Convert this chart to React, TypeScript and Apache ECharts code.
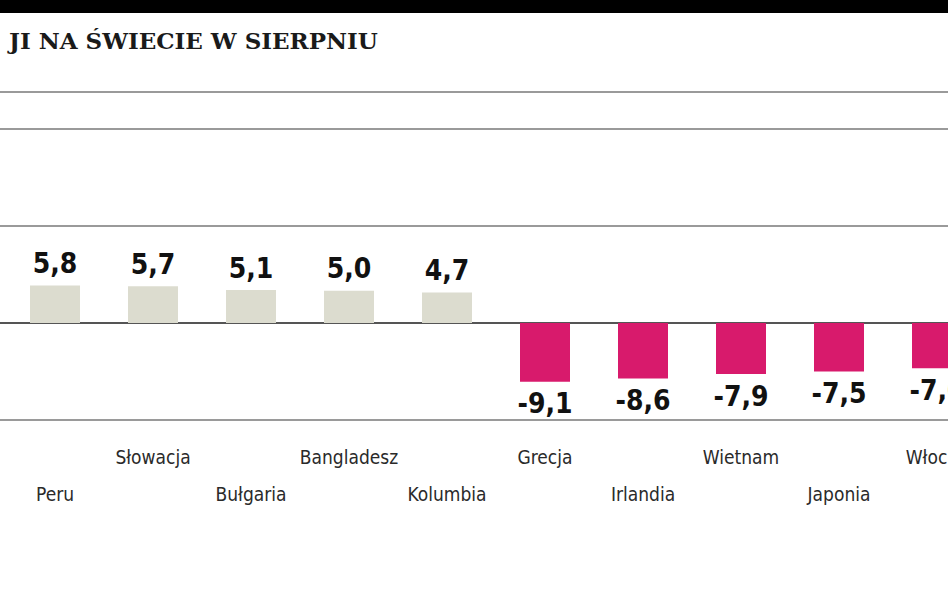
import React, { useEffect, useRef } from "react";
import * as echarts from "echarts";

const categories = ["Peru", "Słowacja", "Bułgaria", "Bangladesz", "Kolumbia", "Grecja", "Irlandia", "Wietnam", "Japonia", "Włochy"];
const values = [5.8, 5.7, 5.1, 5.0, 4.7, -9.1, -8.6, -7.9, -7.5, -7.0];
const titleText = "JI NA ŚWIECIE W SIERPNIU";

const POS_COLOR = "#dcdccf";
const NEG_COLOR = "#d81a6c";
const GRID_COLOR = "#9a9a9a";

export default function App() {
  const ref = useRef<HTMLDivElement>(null);
  useEffect(() => {
    if (!ref.current) return;
    const chart = echarts.init(ref.current, null, { renderer: "svg" });
    const fmt = (v: number) => v.toFixed(1).replace(".", ",");
    const stub = (y: number, color: string) => ({
      type: "line",
      shape: { x1: 0, y1: y, x2: 7, y2: y },
      style: { stroke: color, lineWidth: 2 },
    });
    chart.setOption({
      animation: false,
      backgroundColor: "#ffffff",
      grid: { left: 6, right: 0, top: 129, bottom: 173, containLabel: false },
      graphic: [
        { type: "rect", left: 0, top: 0, shape: { x: 0, y: 0, width: 986, height: 13 }, style: { fill: "#000" } },
        { type: "line", shape: { x1: 0, y1: 92, x2: 986, y2: 92 }, style: { stroke: GRID_COLOR, lineWidth: 2 } },
        stub(129, GRID_COLOR),
        stub(226, GRID_COLOR),
        stub(420, GRID_COLOR),
        stub(323, "#555"),
        {
          type: "text",
          x: 9,
          y: 29,
          style: {
            text: titleText,
            font: "bold 23px 'DejaVu Serif'",
            fill: "#1a1a1a",
          },
        },
      ],
      xAxis: [
        {
          type: "category",
          data: categories,
          position: "bottom",
          axisLine: { show: false, onZero: false },
          axisTick: { show: false },
          axisLabel: {
            interval: 0,
            margin: 18,
            fontFamily: "'DejaVu Sans Condensed'",
            fontSize: 19,
            color: "#2a2a2a",
            lineHeight: 37,
            verticalAlign: "top",
            formatter: (v: string, i: number) => (i % 2 === 0 ? "\n" + v : v + "\n"),
          },
        },
        {
          type: "category",
          data: categories,
          position: "top",
          axisLine: { show: true, onZero: true, lineStyle: { color: "#555", width: 2 } },
          axisTick: { show: false },
          axisLabel: { show: false },
        },
      ],
      yAxis: {
        type: "value",
        min: -15,
        max: 30,
        interval: 15,
        axisLabel: { show: false },
        axisLine: { show: false },
        axisTick: { show: false },
        splitLine: { show: true, lineStyle: { color: GRID_COLOR, width: 2 } },
      },
      series: [
        {
          type: "bar",
          xAxisIndex: 0,
          barWidth: 50,
          data: values.map((v) => ({
            value: v,
            itemStyle: { color: v >= 0 ? POS_COLOR : NEG_COLOR },
            label: { position: v >= 0 ? "top" : "bottom" },
          })),
          label: {
            show: true,
            distance: 8,
            fontFamily: "'DejaVu Sans Condensed'",
            fontWeight: "bold",
            fontSize: 28,
            color: "#111",
            formatter: (p: any) => fmt(p.value),
          },
        },
      ],
    });
    return () => chart.dispose();
  }, []);
  return (
    <div style={{ position: "absolute", left: 0, top: 0, width: 948, height: 593, overflow: "hidden", background: "#fff" }}>
      <div ref={ref} style={{ position: "absolute", left: 0, top: 0, width: 986, height: 593 }} />
    </div>
  );
}
